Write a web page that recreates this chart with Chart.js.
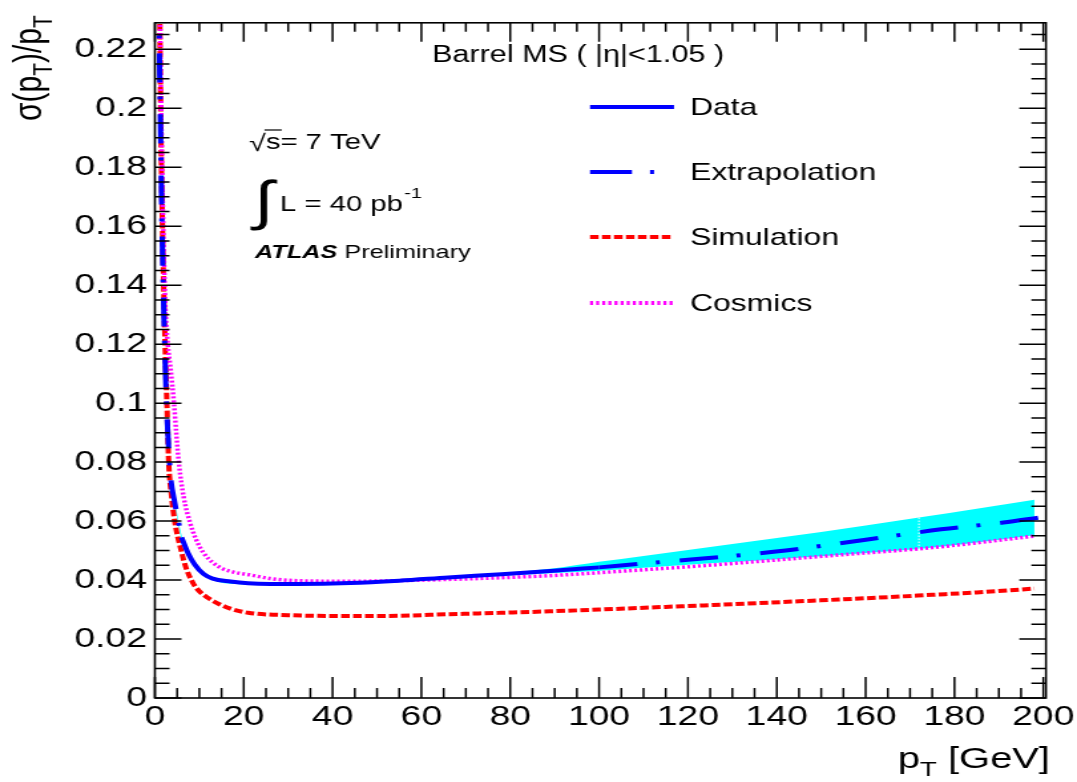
<!DOCTYPE html>
<html>
<head>
<meta charset="utf-8">
<script src="https://cdn.jsdelivr.net/npm/chart.js@4.4.0/dist/chart.umd.min.js"></script>
<style>
  html, body { margin: 0; padding: 0; background: #fff; }
</style>
</head>
<body>
<canvas id="plot" width="810" height="782" style="display:block;width:1077px;height:782px"></canvas>
<script>
// values: pT in GeV, resolution sigma(pT)/pT

const X_TICKS = [0, 20, 40, 60, 80, 100, 120, 140, 160, 180, 200];
const Y_TICKS = [0, 0.02, 0.04, 0.06, 0.08, 0.1, 0.12, 0.14, 0.16, 0.18, 0.2, 0.22];

const simPt  = [1.0, 1.3, 1.7, 2.2, 2.7, 3.1, 3.7, 4.5, 6, 7, 8.5, 10, 12, 14, 17, 21, 30, 44, 55, 66, 78, 89, 100, 115, 130, 145, 154, 165, 175, 185, 198];
const simRes = [0.25, 0.2, 0.16, 0.125, 0.1, 0.08, 0.069, 0.0595, 0.0495, 0.0442, 0.0392, 0.0362, 0.0339, 0.0322, 0.0303, 0.0289, 0.0281, 0.0278, 0.0279, 0.0284, 0.0289, 0.0294, 0.0300, 0.0309, 0.0318, 0.0328, 0.0334, 0.0342, 0.0350, 0.0358, 0.0371];

const cosPt  = [1.0, 1.4, 1.8, 2.3, 2.9, 3.5, 4.3, 4.8, 5.4, 6.5, 7.9, 9.2, 10.8, 13, 15.3, 18, 21.3, 26, 32, 44, 55, 66, 78, 89, 100, 120, 140, 154, 175, 198];
const cosRes = [0.25, 0.2, 0.165, 0.135, 0.12, 0.112, 0.0997, 0.09, 0.0796, 0.068, 0.0595, 0.054, 0.0495, 0.046, 0.0438, 0.0426, 0.0418, 0.0405, 0.0398, 0.0396, 0.0398, 0.0402, 0.0408, 0.0415, 0.0425, 0.0445, 0.0468, 0.0485, 0.051, 0.0549];

const dataPt  = [6, 7.5, 9, 11, 13, 17, 21, 26, 32, 44, 55, 66, 78, 89, 100];
const dataRes = [0.0545, 0.049, 0.0452, 0.042, 0.0405, 0.0395, 0.0389, 0.0387, 0.0387, 0.039, 0.0398, 0.0409, 0.042, 0.0431, 0.0443];

// extrapolation below and above the fitted range
const extLowPt  = [0.6, 0.9, 1.2, 1.6, 2.1, 2.6, 2.9, 3.5, 4.5, 6];
const extLowRes = [0.26, 0.23, 0.2, 0.16, 0.125, 0.1, 0.09, 0.0756, 0.066, 0.0545];
const extHighPt  = [100, 110, 120, 131, 142, 154, 163, 177, 191, 199];
const extHighRes = [0.0443, 0.0456, 0.0469, 0.0483, 0.0500, 0.0524, 0.0543, 0.0572, 0.0595, 0.0612];

// uncertainty band
const bandPt    = [3.5, 4.5, 6, 8, 10, 13, 20, 30, 40, 60, 80, 90, 100, 110, 120, 130, 140, 150, 160, 172, 185, 198];
const bandUpper = [0.0765, 0.0668, 0.0552, 0.0478, 0.0440, 0.0410, 0.0393, 0.0390, 0.0392, 0.0406, 0.0426, 0.0440, 0.0462, 0.0482, 0.0502, 0.0522, 0.0543, 0.0563, 0.0585, 0.0612, 0.0642, 0.0672];
const bandLower = [0.0748, 0.0652, 0.0538, 0.0466, 0.0430, 0.0400, 0.0385, 0.0383, 0.0385, 0.0398, 0.0416, 0.0424, 0.0432, 0.0442, 0.0452, 0.0461, 0.0471, 0.0481, 0.0492, 0.0505, 0.0527, 0.0552];
const BAND_SPLIT = 19; // index of the thin white seam in the band

const FONT = '"Liberation Sans", Arial, Helvetica, sans-serif';
// the reference is horizontally stretched; canvas is drawn narrow and widened by css
const SX = 1077 / 810;
const rx = px => px / SX;

function pts(xs, ys) {
  return xs.map((x, i) => ({ x: x, y: ys[i] }));
}

function line(label, xs, ys, color, width, dash, order) {
  return {
    label: label,
    data: pts(xs, ys),
    borderColor: color,
    borderWidth: width,
    borderDash: dash,
    pointRadius: 0,
    fill: false,
    cubicInterpolationMode: 'monotone',
    order: order
  };
}

// draw text pieces one after another, returns end x
function rich(ctx, parts, x, y) {
  parts.forEach(p => {
    ctx.font = (p.style || '') + ' ' + p.size + 'px ' + FONT;
    ctx.fillText(p.t, x, y + (p.dy || 0));
    x += ctx.measureText(p.t).width;
  });
  return x;
}
function richWidth(ctx, parts) {
  let w = 0;
  parts.forEach(p => {
    ctx.font = (p.style || '') + ' ' + p.size + 'px ' + FONT;
    w += ctx.measureText(p.t).width;
  });
  return w;
}

const decor = {
  id: 'decor',
  afterDatasetDraw(chart, args) {
    // white seam across the band, right after the band fill
    if (args.index !== 1) return;
    const ctx = chart.ctx;
    const xs = chart.scales.x, ys = chart.scales.y;
    const px = xs.getPixelForValue(bandPt[BAND_SPLIT]);
    ctx.save();
    ctx.strokeStyle = '#ffffff';
    ctx.lineWidth = 1;
    ctx.setLineDash([1.5, 1.5]);
    ctx.beginPath();
    ctx.moveTo(px, ys.getPixelForValue(bandUpper[BAND_SPLIT]));
    ctx.lineTo(px, ys.getPixelForValue(bandLower[BAND_SPLIT]));
    ctx.stroke();
    ctx.restore();
  },
  afterDraw(chart) {
    const ctx = chart.ctx;
    const a = chart.chartArea;
    const xs = chart.scales.x, ys = chart.scales.y;
    ctx.save();
    ctx.strokeStyle = '#000';
    ctx.fillStyle = '#000';

    // frame
    ctx.lineWidth = 1.6;
    ctx.strokeRect(a.left, a.top, a.right + 2 - a.left, a.bottom - a.top);

    // inward ticks on all four sides
    ctx.lineWidth = 1.5;
    ctx.beginPath();
    for (let v = 0; v <= 200; v += 5) {
      const major = v % 20 === 0;
      const p = xs.getPixelForValue(v);
      ctx.moveTo(p, a.bottom); ctx.lineTo(p, a.bottom - (major ? 21 : 10));
      ctx.moveTo(p, a.top); ctx.lineTo(p, a.top + (major ? 19 : 9));
    }
    for (let k = 0; k <= 45; k++) {
      const v = k * 0.005;
      const major = k % 4 === 0;
      const p = ys.getPixelForValue(v);
      ctx.moveTo(a.left, p); ctx.lineTo(a.left + (major ? 20 : 11), p);
      ctx.moveTo(a.right + 2, p); ctx.lineTo(a.right + 2 - (major ? 20 : 11), p);
    }
    ctx.stroke();

    // axis titles
    ctx.textBaseline = 'alphabetic';
    ctx.textAlign = 'left';
    const xt = [
      { t: 'p', size: 30 },
      { t: 'T', size: 21, dy: 8 },
      { t: ' [GeV]', size: 30 }
    ];
    rich(ctx, xt, rx(1050) - richWidth(ctx, xt), 768);

    ctx.save();
    ctx.translate(rx(41), 121);
    ctx.rotate(-Math.PI / 2);
    rich(ctx, [
      { t: 'σ(p', size: 30 },
      { t: 'T', size: 21, dy: 8 },
      { t: ')/p', size: 30 },
      { t: 'T', size: 21, dy: 8 }
    ], 0, 0);
    ctx.restore();

    // header
    ctx.font = '23px ' + FONT;
    ctx.fillText('Barrel MS ( |η|<1.05 )', rx(432), 62);

    // legend
    const lx0 = rx(590), lx1 = rx(674), tx = rx(690);
    ctx.font = '24px ' + FONT;
    ctx.textBaseline = 'middle';
    const rows = [['Data', 107], ['Extrapolation', 172], ['Simulation', 237], ['Cosmics', 303]];
    rows.forEach(r => ctx.fillText(r[0], tx, r[1] + 1));

    ctx.lineWidth = 4;
    ctx.strokeStyle = '#0000ff';
    ctx.setLineDash([]);
    ctx.beginPath();
    ctx.moveTo(lx0, 107); ctx.lineTo(lx1, 107);
    ctx.moveTo(lx0, 172); ctx.lineTo(rx(632), 172);
    ctx.moveTo(rx(650), 172); ctx.lineTo(rx(654), 172);
    ctx.stroke();
    ctx.strokeStyle = '#ff0000';
    ctx.setLineDash([6.5, 2.5]);
    ctx.beginPath(); ctx.moveTo(lx0, 237); ctx.lineTo(rx(672), 237); ctx.stroke();
    ctx.strokeStyle = '#ff00ff';
    ctx.setLineDash([2.3, 2.3]);
    ctx.beginPath(); ctx.moveTo(lx0, 303); ctx.lineTo(lx1, 303); ctx.stroke();
    ctx.setLineDash([]);

    // run conditions
    ctx.textBaseline = 'alphabetic';
    ctx.fillStyle = '#000';
    ctx.strokeStyle = '#000';
    ctx.font = '23px ' + FONT;
    const sx0 = rx(249);
    ctx.fillText('√', sx0, 151);
    const sw = ctx.measureText('√').width;
    ctx.font = '22px ' + FONT;
    ctx.fillText('s= 7 TeV', sx0 + sw, 149);
    const sEnd = sx0 + sw + ctx.measureText('s').width;
    ctx.lineWidth = 1.2;
    ctx.beginPath(); ctx.moveTo(sx0 + sw - 1, 130); ctx.lineTo(sEnd + 1, 130); ctx.stroke();

    ctx.font = '54px ' + FONT;
    ctx.fillText('∫', rx(254), 219);
    const pEnd = rich(ctx, [{ t: 'L = 40 pb', size: 22 }], rx(280), 211);
    rich(ctx, [{ t: '-1', size: 15 }], pEnd + 1, 198);

    rich(ctx, [
      { t: 'ATLAS', size: 19, style: 'italic bold' },
      { t: ' Preliminary', size: 19 }
    ], rx(255), 258);

    ctx.restore();
  }
};

new Chart(document.getElementById('plot'), {
  type: 'line',
  data: {
    datasets: [
      { label: 'band up', data: pts(bandPt, bandUpper), borderWidth: 0, pointRadius: 0, fill: false, cubicInterpolationMode: 'monotone', order: 5 },
      { label: 'band', data: pts(bandPt, bandLower), borderWidth: 0, pointRadius: 0, fill: '-1', backgroundColor: '#00ffff', cubicInterpolationMode: 'monotone', order: 5 },
      line('Simulation', simPt, simRes, '#ff0000', 4, [6.5, 2.5], 3),
      line('Cosmics', cosPt, cosRes, '#ff00ff', 3.5, [2, 2], 2),
      line('Extrapolation low', extLowPt, extLowRes, '#0000ff', 4, [29, 14, 3, 15], 1),
      line('Data', dataPt, dataRes, '#0000ff', 4, [], 0),
      line('Extrapolation', extHighPt, extHighRes, '#0000ff', 4, [29, 14, 3, 15], 0)
    ]
  },
  options: {
    responsive: false,
    animation: false,
    devicePixelRatio: 1,
    layout: { padding: { top: 12.7, right: 24, left: 0, bottom: 0 } },
    plugins: { legend: { display: false }, tooltip: { enabled: false } },
    scales: {
      x: {
        type: 'linear',
        min: 0,
        max: 200,
        grid: { display: false, drawTicks: false },
        border: { display: false },
        afterBuildTicks: s => { s.ticks = X_TICKS.map(v => ({ value: v })); },
        afterFit: s => { s.height = 84; },
        ticks: {
          color: '#000',
          font: { family: FONT, size: 28 },
          padding: 2,
          maxRotation: 0,
          autoSkip: false
        }
      },
      y: {
        type: 'linear',
        min: 0,
        max: 0.229,
        grid: { display: false, drawTicks: false },
        border: { display: false },
        afterBuildTicks: s => { s.ticks = Y_TICKS.map(v => ({ value: v })); },
        afterFit: s => { s.width = 116.5; },
        ticks: {
          color: '#000',
          font: { family: FONT, size: 28 },
          padding: 6,
          callback: v => v === 0 ? '0' : String(Number(v.toFixed(2)))
        }
      }
    }
  },
  plugins: [decor]
});
</script>
</body>
</html>
